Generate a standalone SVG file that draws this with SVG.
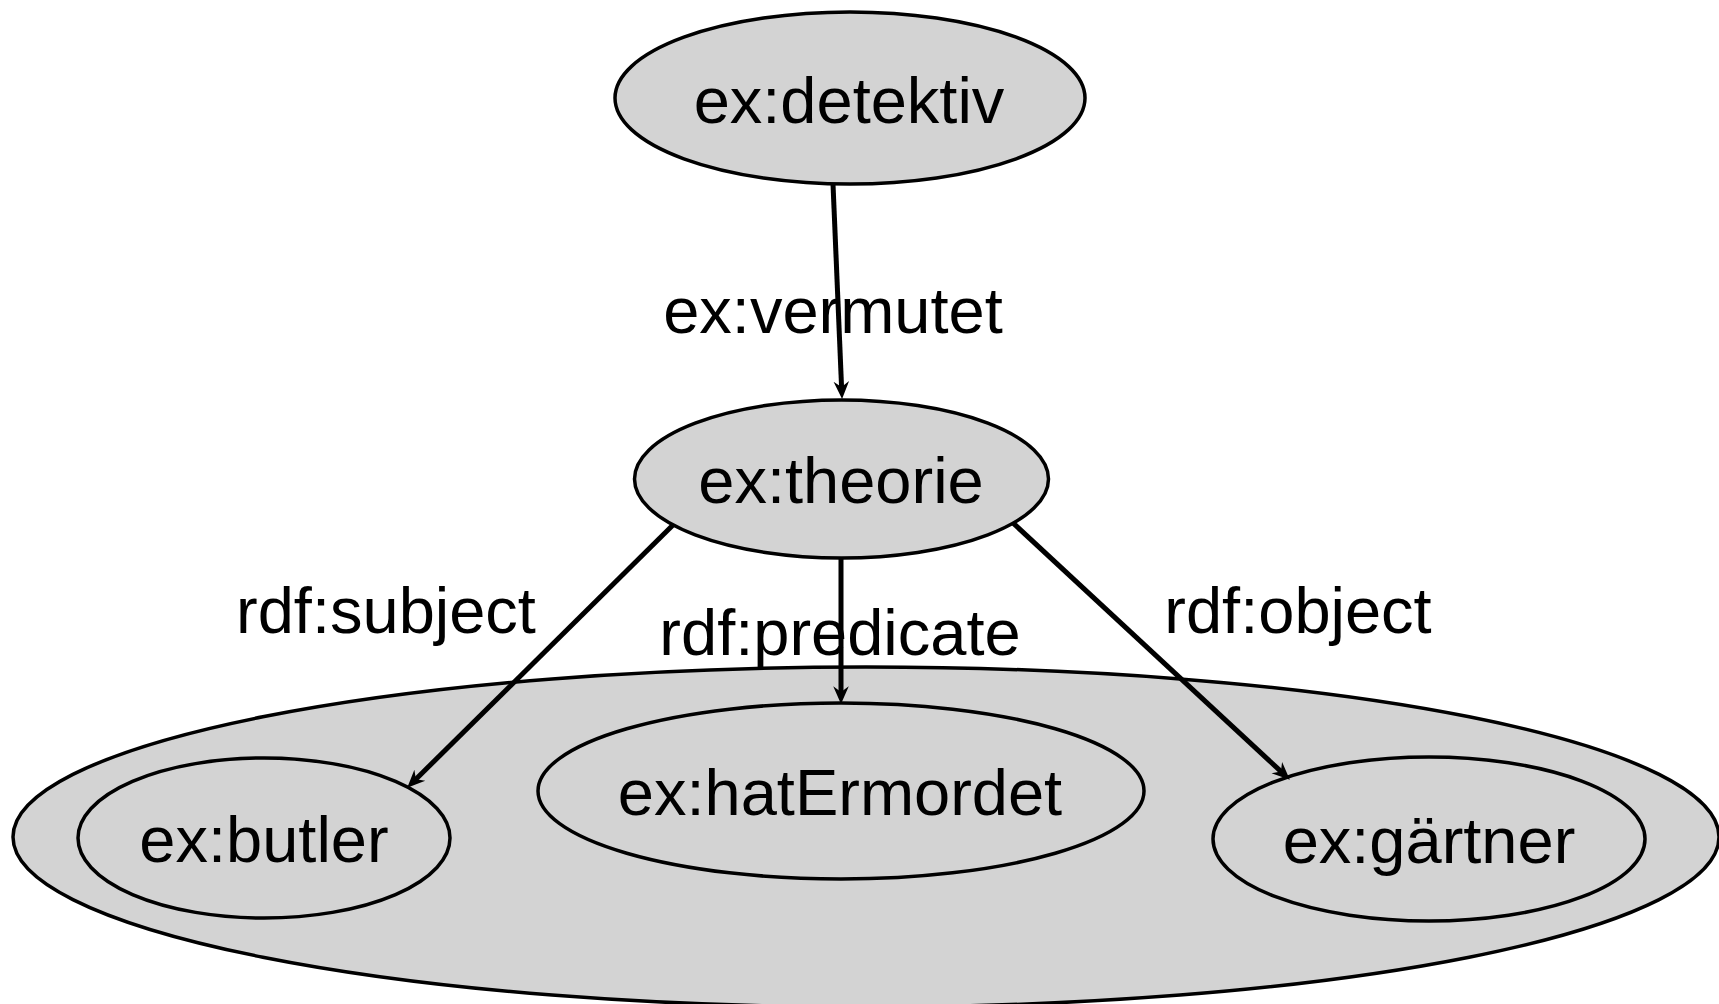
<svg xmlns="http://www.w3.org/2000/svg" width="1719" height="1004" viewBox="0 0 1719 1004">
  <style>
    .node { fill: #d3d3d3; stroke: #000; stroke-width: 3.5; }
    .lbl { font-family: "Liberation Sans", Arial, sans-serif; font-size: 65px; fill: #000; text-anchor: middle; }
    .edge { stroke: #000; stroke-width: 5; fill: none; marker-end: url(#arrow); }
  </style>
  <defs>
    <marker id="arrow" markerUnits="userSpaceOnUse" markerWidth="20" markerHeight="20" viewBox="0 -8 18 16" refX="6" refY="0" orient="auto">
      <path d="M16,0 L0,-7 L5,0 L0,7 Z" fill="#000"/>
    </marker>
  </defs>
  <rect width="1719" height="1004" fill="#fff"/>

  <g id="statement">
    <ellipse class="node" cx="866" cy="837" rx="853" ry="170"/>
  </g>
  <g id="detektiv">
    <ellipse class="node" cx="850" cy="98" rx="235" ry="86"/>
    <text class="lbl" x="849" y="123">ex:detektiv</text>
  </g>
  <g id="theorie">
    <ellipse class="node" cx="841.5" cy="479" rx="207" ry="79"/>
    <text class="lbl" x="841" y="503">ex:theorie</text>
  </g>
  <g id="butler">
    <ellipse class="node" cx="264" cy="838" rx="186" ry="80"/>
    <text class="lbl" x="264" y="862">ex:butler</text>
  </g>
  <g id="hatErmordet">
    <ellipse class="node" cx="841" cy="791" rx="303" ry="88"/>
    <text class="lbl" x="840" y="815">ex:hatErmordet</text>
  </g>
  <g id="gaertner">
    <ellipse class="node" cx="1429" cy="839" rx="216" ry="82"/>
    <text class="lbl" x="1429" y="863">ex:gärtner</text>
  </g>

  <g id="edge-labels">
    <text class="lbl" x="833" y="333">ex:vermutet</text>
    <text class="lbl" x="386" y="633">rdf:subject</text>
    <text class="lbl" x="840" y="655">rdf:predicate</text>
    <text class="lbl" x="1298" y="633">rdf:object</text>
  </g>

  <g id="connectors">
    <line class="edge" x1="833" y1="184" x2="841.6" y2="388"/>
    <line class="edge" x1="673" y1="525" x2="415.1" y2="780"/>
    <line class="edge" x1="841" y1="557" x2="841" y2="693"/>
    <line class="edge" x1="1013" y1="523" x2="1281.7" y2="772.2"/>
  </g>
</svg>
